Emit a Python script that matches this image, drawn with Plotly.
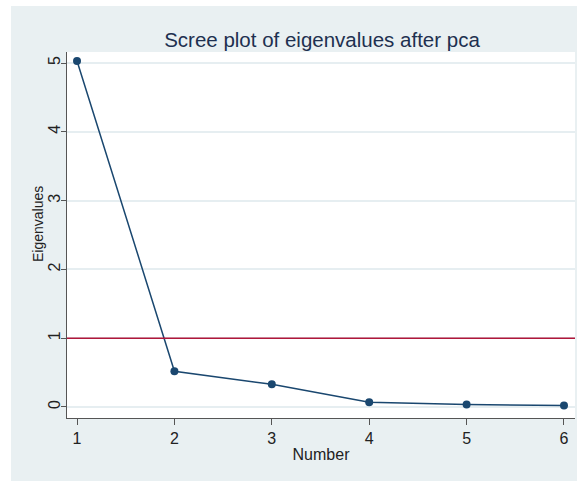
import plotly.graph_objects as go

numbers = [1, 2, 3, 4, 5, 6]
eigenvalues = [5.03, 0.52, 0.33, 0.07, 0.035, 0.02]
threshold = 1
y_ticks = [0, 1, 2, 3, 4, 5]
title_text = "Scree plot of eigenvalues after pca"
x_title = "Number"
y_title = "Eigenvalues"

navy = "#1a476f"
red = "#b0163a"
outer_bg = "#e9f0f2"
FONT = "Liberation Sans, Arial, sans-serif"

W, H = 577, 481
ml, mr, mt, mb = 67, 2, 52, 63
pw = W - ml - mr
ph = H - mt - mb

fig = go.Figure()
fig.add_trace(go.Scatter(
    x=numbers, y=eigenvalues, mode="lines+markers",
    line=dict(color=navy, width=1.5),
    marker=dict(color=navy, size=8),
    showlegend=False, hoverinfo="skip",
))
fig.add_hline(y=threshold, line=dict(color=red, width=1.5), layer="above")

# white strips left and top (outside the grey graph region)
fig.add_shape(type="rect", xref="paper", yref="paper",
              x0=-0.5, x1=(11 - ml) / pw,
              y0=-0.3, y1=1.3,
              fillcolor="white", line_width=0, layer="below")
fig.add_shape(type="rect", xref="paper", yref="paper",
              x0=-0.5, x1=1.3,
              y0=(ph + mt - 6) / ph, y1=1.3,
              fillcolor="white", line_width=0, layer="below")

fig.add_annotation(text=y_title, textangle=-90, showarrow=False,
                   xref="paper", yref="paper",
                   x=(38 - ml) / pw, y=(ph + mt - 224) / ph,
                   xanchor="center", yanchor="middle",
                   font=dict(size=14, color="#222222"))

fig.update_layout(
    width=W, height=H,
    margin=dict(l=ml, r=mr, t=mt, b=mb, pad=0),
    paper_bgcolor=outer_bg,
    plot_bgcolor="white",
    font=dict(family=FONT, color="#222222"),
    title=dict(text=title_text, x=322 / W, xanchor="center",
               y=1 - 40 / H, yanchor="middle",
               font=dict(size=20.5, color="#1e3050")),
)
fig.update_xaxes(
    range=[0.897, 6.113], tickvals=numbers, ticks="outside", ticklen=6,
    tickcolor="#555555", showline=True, linecolor="#555555", linewidth=1,
    showgrid=False, zeroline=False,
    title=dict(text=x_title, font=dict(size=16), standoff=2),
    tickfont=dict(size=16),
)
fig.update_yaxes(
    range=[-0.16, 5.16], tickvals=y_ticks, ticks="outside",
    ticklen=5, tickcolor="#555555", showline=True, linecolor="#555555",
    linewidth=1, showgrid=True, gridcolor="#e6eef1", gridwidth=1.5,
    zeroline=False, tickangle=-90, ticklabelstandoff=-5,
    tickfont=dict(size=16),
)

fig.write_html("out.html", config={"displayModeBar": False},
               post_script="document.body.style.margin='0';")
